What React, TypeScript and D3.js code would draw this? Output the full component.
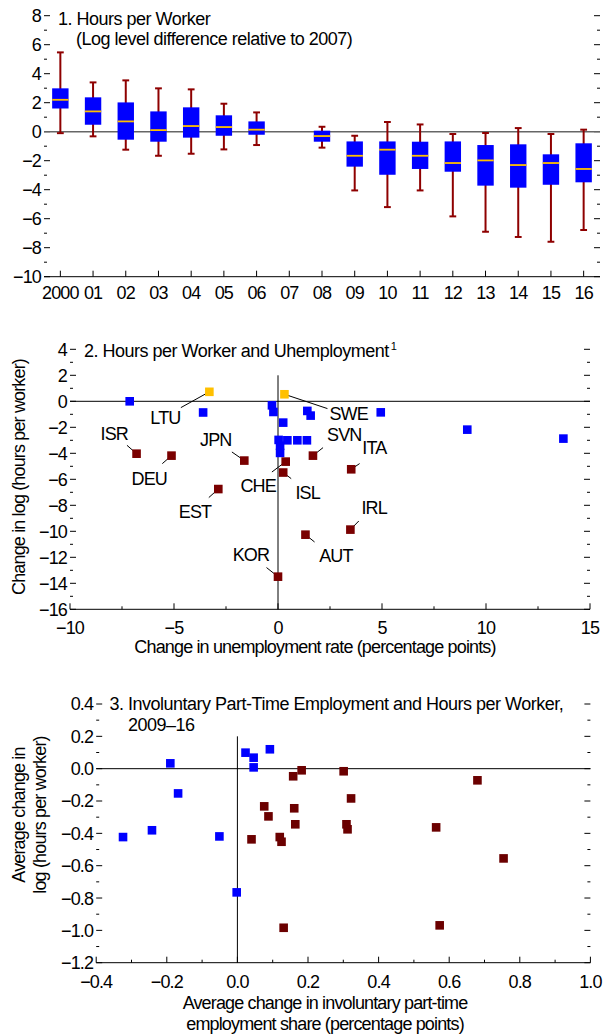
import React, { useEffect, useRef } from "react";
import * as d3 from "d3";

/* ---------- Panel 1: hours per worker, box plots ---------- */
const years = ["2000", "01", "02", "03", "04", "05", "06", "07", "08", "09", "10", "11", "12", "13", "14", "15", "16"];
const whiskerHigh = [5.47, 3.4, 3.54, 2.99, 2.92, 1.93, 1.33, null, 0.34, -0.28, 0.67, 0.5, -0.16, -0.09, 0.25, -0.16, 0.14];
const boxHigh = [2.99, 2.37, 2.02, 1.4, 1.68, 1.13, 0.71, null, 0.07, -0.67, -0.67, -0.69, -0.67, -0.92, -0.87, -1.56, -0.8];
const medians = [2.2, 1.4, 0.71, 0.11, 0.39, 0.32, 0.14, null, -0.3, -1.66, -1.24, -1.66, -2.16, -1.98, -2.3, -2.16, -2.57];
const boxLow = [1.6, 0.48, -0.55, -0.69, -0.41, -0.28, -0.21, null, -0.69, -2.41, -2.97, -2.57, -2.76, -3.72, -3.86, -3.66, -3.49];
const whiskerLow = [-0.1, -0.32, -1.24, -1.66, -1.52, -1.22, -0.92, null, -1.1, -4.05, -5.2, -4.05, -5.84, -6.9, -7.26, -7.59, -6.78];
const yTicks1 = [-10, -8, -6, -4, -2, 0, 2, 4, 6, 8];

/* ---------- Panel 2: hours per worker and unemployment ---------- */
const namedCodes = ["LTU", "SWE", "ISR", "DEU", "JPN", "SVN", "ITA", "CHE", "ISL", "EST", "IRL", "AUT", "KOR"];
const namedX = [-3.3, 0.31, -6.8, -5.12, -1.62, 1.68, 3.52, 0.37, 0.25, -2.87, 3.48, 1.32, 0.0];
const namedY = [0.73, 0.54, -4.03, -4.18, -4.56, -4.18, -5.23, -4.64, -5.48, -6.75, -9.87, -10.26, -13.49];
const namedRising = ["LTU", "SWE"];
const otherX = [-7.13, -3.6, -0.29, -0.22, 1.41, 1.57, 4.94, 0.25, 9.1, 13.72, 0.03, 0.45, 0.93, 1.39, 0.1, 0.1];
const otherY = [0.0, -0.86, -0.31, -0.82, -0.74, -1.1, -0.85, -1.64, -2.18, -2.87, -2.97, -3.0, -3.0, -3.0, -3.42, -3.97];
const xTicks2 = [-10, -5, 0, 5, 10, 15];
const yTicks2 = [-16, -14, -12, -10, -8, -6, -4, -2, 0, 2, 4];

/* label text offset (dx, dy) and leader start (lx, ly), in px from the marker */
const labelLayout: Record<string, number[]> = {
  LTU: [-59, 32.5, -28.5, 15.8],
  SWE: [45, 25.3, 43, 14.3],
  ISR: [-36, -13.4, -9.6, -8.4],
  DEU: [-40, 29.7, -9.2, 8],
  JPN: [-44.3, -14.3, -12.4, -8.6],
  SVN: [14.1, -14.3, 10.1, -8],
  ITA: [11.1, -15.7, 8.4, -5.7],
  CHE: [-45.3, 30.4, -13.8, 10.4],
  ISL: [12.2, 26.1, 8, 6.1],
  EST: [-39.5, 28.5, -9.5, 8.5],
  IRL: [11.1, -16, 8.4, -8.6],
  AUT: [13.7, 27.3, 9.1, 7.3],
  KOR: [-45.3, -15.7, -11.5, -9.1],
};

/* ---------- Panel 3: involuntary part-time and hours ---------- */
const ptBlueX = [-0.324, -0.242, -0.19, -0.168, -0.051, -0.002, 0.023, 0.046, 0.046, 0.092];
const ptBlueY = [-0.423, -0.381, 0.033, -0.153, -0.419, -0.765, 0.099, 0.068, 0.008, 0.12];
const ptRedX = [0.04, 0.076, 0.088, 0.12, 0.125, 0.131, 0.158, 0.161, 0.164, 0.182, 0.301, 0.309, 0.312, 0.322, 0.563, 0.573, 0.68, 0.754];
const ptRedY = [-0.437, -0.233, -0.295, -0.423, -0.452, -0.984, -0.047, -0.245, -0.344, -0.01, -0.016, -0.344, -0.375, -0.184, -0.363, -0.969, -0.072, -0.555];
const xTicks3 = [-0.4, -0.2, 0, 0.2, 0.4, 0.6, 0.8, 1.0];
const yTicks3 = [-1.2, -1.0, -0.8, -0.6, -0.4, -0.2, 0, 0.2, 0.4];

const FONT = "'Liberation Sans', Arial, sans-serif";
const BLUE = "#0000FF";
const GOLD = "#FFC000";
const TITLE_SPACING = "-0.5px";
const minus = (s: string) => s.replace("-", "\u2212");

type Sel = d3.Selection<SVGGElement, unknown, null, undefined>;

/* ticks drawn inside on left and right edges, labels on the left */
function drawYAxis(g: Sel, y: d3.ScaleLinear<number, number>, x0: number, x1: number, majors: number[], step: number, fmt: (v: number) => string) {
  const [lo, hi] = d3.extent(majors) as [number, number];
  const minors = d3.range(lo + step, hi, step * 2);
  const tick = g.append("g").attr("stroke", "#000").attr("stroke-width", 1);
  majors.forEach((v) => {
    tick.append("line").attr("x1", x0).attr("x2", x0 + 6).attr("y1", y(v)).attr("y2", y(v));
    tick.append("line").attr("x1", x1 - 6).attr("x2", x1).attr("y1", y(v)).attr("y2", y(v));
  });
  minors.forEach((v) => {
    tick.append("line").attr("x1", x0).attr("x2", x0 + 3).attr("y1", y(v)).attr("y2", y(v));
    tick.append("line").attr("x1", x1 - 3).attr("x2", x1).attr("y1", y(v)).attr("y2", y(v));
  });
  g.append("g")
    .selectAll("text")
    .data(majors)
    .join("text")
    .attr("x", x0 - 3)
    .attr("y", (d) => y(d))
    .attr("dy", "0.36em")
    .attr("text-anchor", "end")
    .text((d) => minus(fmt(d)));
}

/* bottom line with upward ticks */
function drawXAxis(g: Sel, x: d3.ScaleLinear<number, number>, yb: number, majors: number[], step: number, fmt: (v: number) => string) {
  const [lo, hi] = d3.extent(majors) as [number, number];
  const minors = d3.range(lo + step, hi, step * 2);
  const [r0, r1] = x.range();
  const tick = g.append("g").attr("stroke", "#000").attr("stroke-width", 1);
  tick.append("line").attr("x1", r0).attr("x2", r1).attr("y1", yb).attr("y2", yb);
  majors.forEach((v) => tick.append("line").attr("x1", x(v)).attr("x2", x(v)).attr("y1", yb).attr("y2", yb - 6));
  minors.forEach((v) => tick.append("line").attr("x1", x(v)).attr("x2", x(v)).attr("y1", yb).attr("y2", yb - 3));
  g.append("g")
    .selectAll("text")
    .data(majors)
    .join("text")
    .attr("x", (d) => x(d))
    .attr("y", yb + 25)
    .attr("text-anchor", "middle")
    .text((d) => minus(fmt(d)));
}

function squares(g: Sel, xs: number[], ys: number[], x: any, y: any, fill: string, size = 8.6) {
  g.append("g")
    .selectAll("rect")
    .data(xs.map((v, i) => [v, ys[i]]))
    .join("rect")
    .attr("x", (d) => x(d[0]) - size / 2)
    .attr("y", (d) => y(d[1]) - size / 2)
    .attr("width", size)
    .attr("height", size)
    .attr("fill", fill);
}

const App = () => {
  const ref = useRef<SVGSVGElement>(null);

  useEffect(() => {
    const svg = d3.select(ref.current);
    svg.selectAll("*").remove();
    const root = svg
      .append("g")
      .attr("font-family", FONT)
      .attr("font-size", 18)
      .attr("letter-spacing", "-0.85px")
      .attr("fill", "#000");

    /* ===== Panel 1 ===== */
    const p1 = root.append("g");
    const x1 = d3.scaleBand().domain(years).range([44, 600]);
    const y1 = d3.scaleLinear().domain([-10, 8]).range([276.7, 15.7]);
    const bw = 16.4;

    drawYAxis(p1, y1, 44, 600, yTicks1, 1, (v) => d3.format("d")(v));
    p1.append("line").attr("x1", 44).attr("x2", 600).attr("y1", y1(0)).attr("y2", y1(0))
      .attr("stroke", "#666").attr("stroke-width", 1.5);

    const boxes = years
      .map((yr, i) => ({ yr, wl: whiskerLow[i], bl: boxLow[i], md: medians[i], bh: boxHigh[i], wh: whiskerHigh[i] }))
      .filter((d) => d.md !== null);
    const bg = p1.append("g").selectAll("g").data(boxes).join("g")
      .attr("transform", (d) => `translate(${(x1(d.yr) as number) + x1.bandwidth() / 2},0)`);
    bg.append("line").attr("y1", (d) => y1(d.wl as number)).attr("y2", (d) => y1(d.wh as number))
      .attr("stroke", "#8E0000").attr("stroke-width", 2);
    bg.append("line").attr("x1", -3.4).attr("x2", 3.4).attr("y1", (d) => y1(d.wh as number)).attr("y2", (d) => y1(d.wh as number))
      .attr("stroke", "#8E0000").attr("stroke-width", 2);
    bg.append("line").attr("x1", -3.4).attr("x2", 3.4).attr("y1", (d) => y1(d.wl as number)).attr("y2", (d) => y1(d.wl as number))
      .attr("stroke", "#8E0000").attr("stroke-width", 2);
    bg.append("rect").attr("x", -bw / 2).attr("width", bw)
      .attr("y", (d) => y1(d.bh as number)).attr("height", (d) => y1(d.bl as number) - y1(d.bh as number))
      .attr("fill", BLUE);
    bg.append("line").attr("x1", -bw / 2).attr("x2", bw / 2).attr("y1", (d) => y1(d.md as number)).attr("y2", (d) => y1(d.md as number))
      .attr("stroke", GOLD).attr("stroke-width", 1.8);

    const yb1 = y1(-10);
    p1.append("line").attr("x1", 44).attr("x2", 600).attr("y1", yb1).attr("y2", yb1).attr("stroke", "#000");
    years.forEach((yr) => {
      const cx = (x1(yr) as number) + x1.bandwidth() / 2;
      p1.append("line").attr("x1", cx).attr("x2", cx).attr("y1", yb1).attr("y2", yb1 - 6).attr("stroke", "#000");
    });
    p1.append("g").selectAll("text").data(years).join("text")
      .attr("x", (d) => (x1(d) as number) + x1.bandwidth() / 2)
      .attr("y", yb1 + 22.5)
      .attr("text-anchor", "middle")
      .text((d) => d);

    p1.append("text").attr("x", 58).attr("y", 24.5).attr("letter-spacing", TITLE_SPACING).text("1. Hours per Worker");
    p1.append("text").attr("x", 76).attr("y", 44.5).attr("letter-spacing", TITLE_SPACING)
      .text("(Log level difference relative to 2007)");

    /* ===== Panel 2 ===== */
    const p2 = root.append("g");
    const x2 = d3.scaleLinear().domain([-10, 15]).range([70, 590]);
    const y2 = d3.scaleLinear().domain([-16, 4]).range([609.3, 349.3]);
    drawYAxis(p2, y2, 70, 590, yTicks2, 1, (v) => d3.format("d")(v));
    drawXAxis(p2, x2, y2(-16), xTicks2, 2.5, (v) => d3.format("d")(v));
    p2.append("line").attr("x1", 70).attr("x2", 590).attr("y1", y2(0)).attr("y2", y2(0)).attr("stroke", "#000");
    p2.append("line").attr("x1", x2(0)).attr("x2", x2(0)).attr("y1", y2(2)).attr("y2", y2(-16)).attr("stroke", "#000");

    const lead = p2.append("g").attr("stroke", "#000").attr("stroke-width", 1);
    namedCodes.forEach((c, i) => {
      const [dx, dy, lx, ly] = labelLayout[c];
      const px = x2(namedX[i]);
      const py = y2(namedY[i]);
      lead.append("line").attr("x1", px + lx).attr("y1", py + ly).attr("x2", px).attr("y2", py);
      p2.append("text").attr("x", px + dx).attr("y", py + dy).text(c);
    });
    squares(p2, otherX, otherY, x2, y2, BLUE);
    const redIdx = namedCodes.map((c, i) => i).filter((i) => !namedRising.includes(namedCodes[i]));
    const goldIdx = namedCodes.map((c, i) => i).filter((i) => namedRising.includes(namedCodes[i]));
    squares(p2, redIdx.map((i) => namedX[i]), redIdx.map((i) => namedY[i]), x2, y2, "#7A0000");
    squares(p2, goldIdx.map((i) => namedX[i]), goldIdx.map((i) => namedY[i]), x2, y2, GOLD);

    const t2 = p2.append("text").attr("x", 84).attr("y", 356.5).attr("letter-spacing", TITLE_SPACING);
    t2.append("tspan").text("2. Hours per Worker and Uhemployment");
    t2.append("tspan").attr("font-size", 11).attr("dy", -7).attr("dx", 2).text("1");
    p2.append("text").attr("transform", "translate(25,477) rotate(-90)").attr("text-anchor", "middle")
      .text("Change in log (hours per worker)");
    p2.append("text").attr("x", 315).attr("y", 653).attr("text-anchor", "middle")
      .text("Change in unemployment rate (percentage points)");

    /* ===== Panel 3 ===== */
    const p3 = root.append("g");
    const x3 = d3.scaleLinear().domain([-0.4, 1.0]).range([96.2, 590.4]);
    const y3 = d3.scaleLinear().domain([-1.2, 0.4]).range([962.7, 704]);
    drawYAxis(p3, y3, 96.2, 590.4, yTicks3, 0.1, d3.format(".1f"));
    drawXAxis(p3, x3, y3(-1.2), xTicks3, 0.1, d3.format(".1f"));
    p3.append("line").attr("x1", 96.2).attr("x2", 590.4).attr("y1", y3(0)).attr("y2", y3(0)).attr("stroke", "#000");
    p3.append("line").attr("x1", x3(0)).attr("x2", x3(0)).attr("y1", y3(0.2)).attr("y2", y3(-1.2)).attr("stroke", "#000");
    squares(p3, ptBlueX, ptBlueY, x3, y3, BLUE);
    squares(p3, ptRedX, ptRedY, x3, y3, "#6B0000");

    p3.append("text").attr("x", 109.5).attr("y", 709.5).attr("letter-spacing", TITLE_SPACING)
      .text("3. Involuntary Part-Time Employment and Hours per Worker,");
    p3.append("text").attr("x", 128).attr("y", 731).attr("letter-spacing", TITLE_SPACING).text("2009\u201316");
    p3.append("text").attr("transform", "translate(25,815) rotate(-90)").attr("text-anchor", "middle")
      .text("Average change in");
    p3.append("text").attr("transform", "translate(46,815) rotate(-90)").attr("text-anchor", "middle")
      .text("log (hours per worker)");
    p3.append("text").attr("x", 325).attr("y", 1009).attr("text-anchor", "middle")
      .text("Average change in involuntary part-time");
    p3.append("text").attr("x", 325).attr("y", 1030).attr("text-anchor", "middle")
      .text("employment share (percentage points)");
  }, []);

  return (
    <svg
      ref={ref}
      width={603}
      height={1036}
      style={{ position: "absolute", left: 0, top: 0, background: "#fff" }}
    />
  );
};

export default App;
